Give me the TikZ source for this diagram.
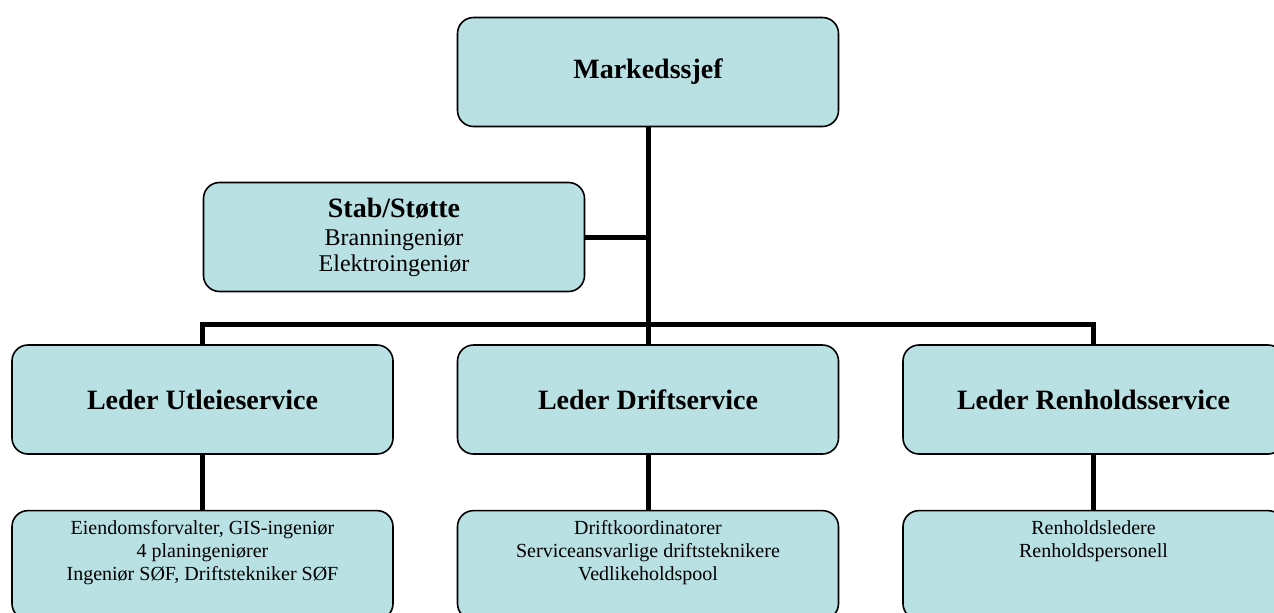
\documentclass[tikz,border=0pt]{standalone}
\usepackage{fontspec}
\setmainfont{Liberation Serif}
\usetikzlibrary{positioning}
\definecolor{boxblue}{RGB}{185,224,227}

\tikzset{
    unit/.style={draw=black, line width=0.8pt, fill=boxblue, rounded corners=8pt,
        minimum width=190.5pt, minimum height=54.5pt, align=center, inner sep=0pt},
    head/.style={unit, font=\fontsize{14}{16}\selectfont\bfseries},
    staff/.style={unit, inner ysep=4pt},
    conn/.style={line width=2.5pt, line join=miter}
}
\newcommand{\stafflist}[1]{\parbox[c][46.5pt][t]{185pt}{\centering\fontsize{10}{11.5}\selectfont\strut #1}}

\begin{document}
\begin{tikzpicture}[x=0.5pt, y=-0.5pt]
    \useasboundingbox (0,0) rectangle (1274,612);
    \clip (0,0) rectangle (1274,612);
    % Top
    \node [head] (chief) at (648,72) {Markedssjef};
    \node [unit, font=\fontsize{12}{13}\selectfont] (stab) at (394,237)
        {{\fontsize{14}{14}\selectfont\bfseries Stab/Støtte}\\[1pt] Branningeniør\\Elektroingeniør};
    % Leaders
    \node [head] (utleie) at (202.5,399.5) {Leder Utleieservice};
    \node [head] (drift) at (648,399.5) {Leder Driftservice};
    \node [head] (renhold) at (1093.5,399.5) {Leder Renholdsservice};
    % Staff
    \node [staff, below=27.5pt of utleie] (utleiestaff)
        {\stafflist{Eiendomsforvalter, GIS-ingeniør\\4 planingeniører\\Ingeniør SØF, Driftstekniker SØF}};
    \node [staff, below=27.5pt of drift] (driftstaff)
        {\stafflist{Driftkoordinatorer\\Serviceansvarlige driftsteknikere\\Vedlikeholdspool}};
    \node [staff, below=27.5pt of renhold] (renholdstaff)
        {\stafflist{Renholdsledere\\Renholdspersonell}};
    % Lines
    \coordinate (bus) at (648,324);
    \draw [conn] (chief.south) -- (drift.north);
    \draw [conn] (stab.east) -- (stab.east -| chief.south);
    \draw [conn] (utleie.north) -- (utleie.north |- bus) -- (renhold.north |- bus) -- (renhold.north);
    \draw [conn] (utleie.south) -- (utleiestaff.north);
    \draw [conn] (drift.south) -- (driftstaff.north);
    \draw [conn] (renhold.south) -- (renholdstaff.north);
\end{tikzpicture}
\end{document}
